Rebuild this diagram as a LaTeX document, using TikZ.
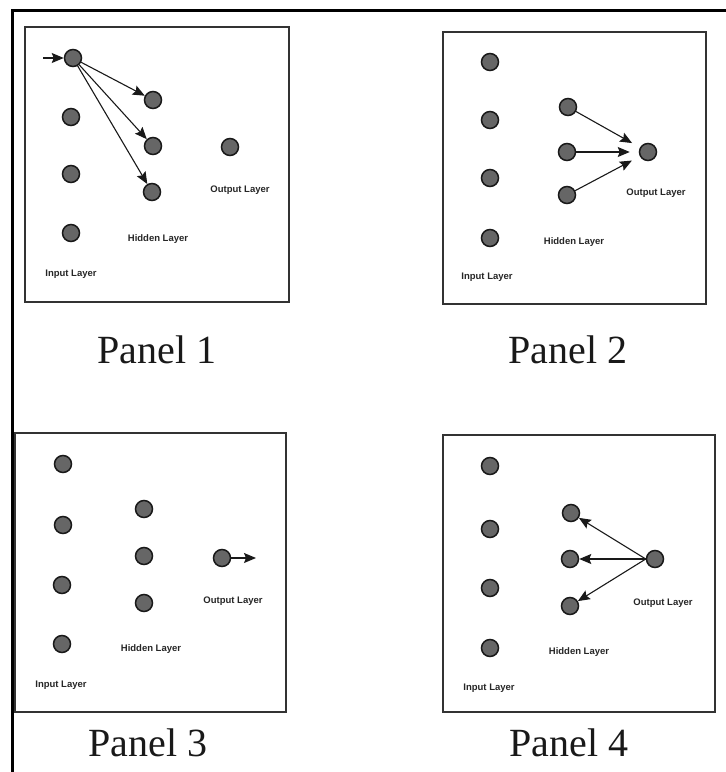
\documentclass[tikz,border=0pt]{standalone}
\usepackage{fontspec}
\setmainfont{Liberation Serif}
\setsansfont{Liberation Sans}
\usetikzlibrary{arrows.meta}

\begin{document}
\begin{tikzpicture}[x=1pt,y=-1pt,->,>={Stealth[length=12pt,width=10pt,inset=2pt]},
	thick,main node/.style={circle, draw=black!90, fill=black!60, line width=1.5pt, minimum size=17pt, inner sep=0pt},
	layer/.style={font=\sffamily\bfseries\fontsize{9.5}{11}\selectfont, text=black!85},
	panel/.style={-, draw=black!80, line width=1.3pt},
	caption/.style={font=\fontsize{40}{46}\selectfont, text=black!90},
	link/.style={draw=black!90, line width=1.1pt}]

	\useasboundingbox (0,0) rectangle (726,772);
	\draw[-, line width=3pt] (12,772) -- (12,10.5) -- (726,10.5);

	% Panel 1
	\draw[panel] (25,27) rectangle (289,302);
	\node[main node] (p1i1) at (73,58) {};
	\node[main node] (p1i2) at (71,117) {};
	\node[main node] (p1i3) at (71,174) {};
	\node[main node] (p1i4) at (71,233) {};
	\node[main node] (p1h1) at (153,100) {};
	\node[main node] (p1h2) at (153,146) {};
	\node[main node] (p1h3) at (152,192) {};
	\node[main node] (p1o) at (230,147) {};
	\coordinate (p1in) at (43,58);
	\node[layer] at (240,190) {Output Layer};
	\node[layer] at (158,239) {Hidden Layer};
	\node[layer] at (71,274) {Input Layer};
	\draw[link] (p1in) -- (p1i1);
	\draw[link] (p1i1) -- (p1h1);
	\draw[link] (p1i1) -- (p1h2);
	\draw[link] (p1i1) -- (p1h3);
	\node[caption] (cap1) at (157,350) {Panel 1};

	% Panel 2
	\draw[panel] (443,32) rectangle (706,304);
	\node[main node] (p2i1) at (490,62) {};
	\node[main node] (p2i2) at (490,120) {};
	\node[main node] (p2i3) at (490,178) {};
	\node[main node] (p2i4) at (490,238) {};
	\node[main node] (p2h1) at (568,107) {};
	\node[main node] (p2h2) at (567,152) {};
	\node[main node] (p2h3) at (567,195) {};
	\node[main node] (p2o) at (648,152) {};
	\node[layer] at (656,193) {Output Layer};
	\node[layer] at (574,242) {Hidden Layer};
	\node[layer] at (487,277) {Input Layer};
	\draw[link, shorten >=9pt] (p2h1) -- (p2o);
	\draw[link, shorten >=9pt] (p2h2) -- (p2o);
	\draw[link, shorten >=9pt] (p2h3) -- (p2o);
	\node[caption] (cap2) at (568,350) {Panel 2};

	% Panel 3
	\draw[panel] (15,433) rectangle (286,712);
	\node[main node] (p3i1) at (63,464) {};
	\node[main node] (p3i2) at (63,525) {};
	\node[main node] (p3i3) at (62,585) {};
	\node[main node] (p3i4) at (62,644) {};
	\node[main node] (p3h1) at (144,509) {};
	\node[main node] (p3h2) at (144,556) {};
	\node[main node] (p3h3) at (144,603) {};
	\node[main node] (p3o) at (222,558) {};
	\coordinate (p3out) at (256,558);
	\node[layer] at (233,601) {Output Layer};
	\node[layer] at (151,649) {Hidden Layer};
	\node[layer] at (61,685) {Input Layer};
	\draw[link] (p3o) -- (p3out);
	\node[caption] (cap3) at (148,743) {Panel 3};

	% Panel 4
	\draw[panel] (443,435) rectangle (715,712);
	\node[main node] (p4i1) at (490,466) {};
	\node[main node] (p4i2) at (490,529) {};
	\node[main node] (p4i3) at (490,588) {};
	\node[main node] (p4i4) at (490,648) {};
	\node[main node] (p4h1) at (571,513) {};
	\node[main node] (p4h2) at (570,559) {};
	\node[main node] (p4h3) at (570,606) {};
	\node[main node] (p4o) at (655,559) {};
	\node[layer] at (663,603) {Output Layer};
	\node[layer] at (579,652) {Hidden Layer};
	\node[layer] at (489,688) {Input Layer};
	\draw[link] (p4o.west) -- (p4h1);
	\draw[link] (p4o.west) -- (p4h2);
	\draw[link] (p4o.west) -- (p4h3);
	\node[caption] (cap4) at (569,743) {Panel 4};
\end{tikzpicture}
\end{document}
